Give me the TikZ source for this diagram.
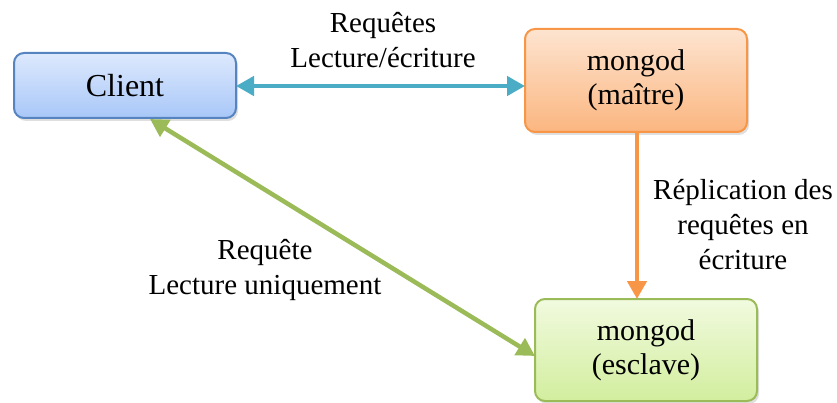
\documentclass[tikz,border=0pt]{standalone}
\usepackage{fontspec}
\setmainfont{Liberation Serif}
\usetikzlibrary{shadows,arrows.meta}
\definecolor{cliBorder}{HTML}{5584C0}
\definecolor{cliTop}{HTML}{DDE9FD}
\definecolor{cliBot}{HTML}{A8C7F8}
\definecolor{masBorder}{HTML}{F79646}
\definecolor{masTop}{HTML}{FDE4D0}
\definecolor{masBot}{HTML}{FBB680}
\definecolor{slvBorder}{HTML}{9BBB59}
\definecolor{slvTop}{HTML}{F1FADF}
\definecolor{slvBot}{HTML}{D2EE9E}
\definecolor{linkBlue}{HTML}{4BACC6}
\definecolor{linkOrange}{HTML}{F79646}
\definecolor{linkGreen}{HTML}{9BBB59}
\tikzset{
  box/.style={draw, line width=2pt, rounded corners=10pt, align=center,
    inner sep=0pt, drop shadow={shadow xshift=2pt, shadow yshift=-3pt, opacity=0.25},
    font=\fontsize{30}{34}\selectfont},
  link/.style={line width=4.5pt, {Triangle[length=18pt,width=19pt]}-{Triangle[length=18pt,width=19pt]}},
  oneway/.style={line width=4.5pt, -{Triangle[length=18pt,width=19pt]}},
  lbl/.style={align=center, font=\fontsize{29}{35}\selectfont, inner sep=0pt},
}
\begin{document}
\begin{tikzpicture}[x=1pt,y=-1pt]
  \useasboundingbox (0,0) rectangle (837,403);
  % boxes
  \node[box, draw=cliBorder, top color=cliTop, bottom color=cliBot,
        minimum width=222pt, minimum height=65pt, font=\fontsize{32}{36}\selectfont]
        (client) at (125,85.5) {Client};
  \node[box, draw=masBorder, top color=masTop, bottom color=masBot,
        minimum width=222pt, minimum height=103pt]
        (master) at (636,80.5) {mongod\\(maître)};
  \node[box, draw=slvBorder, top color=slvTop, bottom color=slvBot,
        minimum width=222pt, minimum height=102pt]
        (slave) at (646,350) {mongod\\(esclave)};
  % connectors
  \coordinate (cR) at (236,86);
  \coordinate (mL) at (525,86);
  \draw[link, linkBlue] (cR) -- (mL);
  \coordinate (mB) at (637,133);
  \coordinate (sT) at (637,299);
  \draw[oneway, linkOrange] (mB) -- (sT);
  \coordinate (cB) at (150,119);
  \coordinate (sL) at (535,356);
  \draw[link, linkGreen] (cB) -- (sL);
  % labels
  \node[lbl] (lblRW) at (383,40) {Requêtes\\Lecture/écriture};
  \node[lbl] (lblRep) at (743,225) {Réplication des\\requêtes en\\écriture};
  \node[lbl] (lblRO) at (265,270) {Requête\\Lecture uniquement};
\end{tikzpicture}
\end{document}
